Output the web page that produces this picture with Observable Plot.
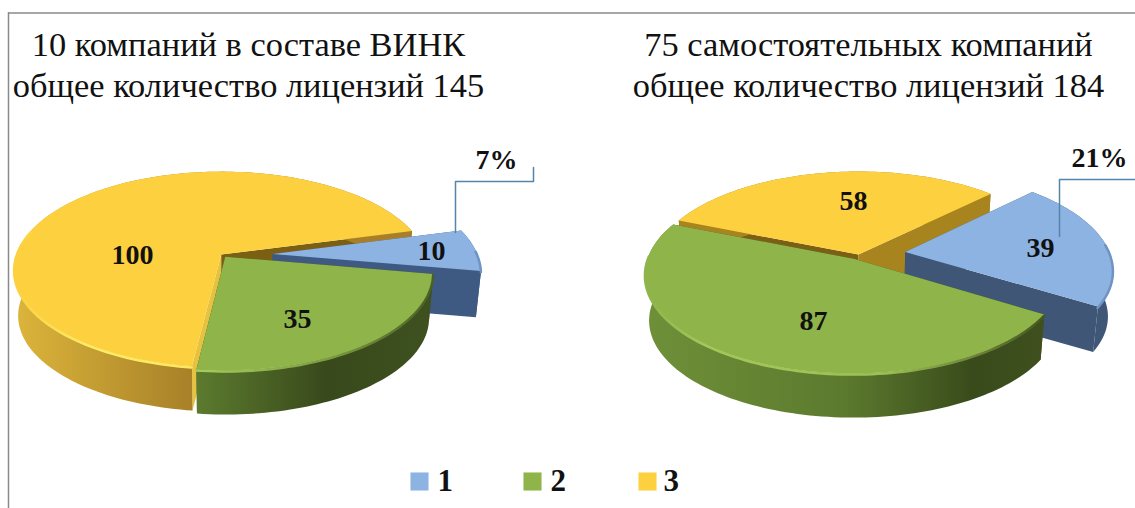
<!DOCTYPE html>
<html><head><meta charset="utf-8">
<style>html,body{margin:0;padding:0;background:#fff}svg{display:block}svg text{font-family:'Liberation Serif',serif !important}</style>
<script src="https://cdn.jsdelivr.net/npm/d3@7"></script>
<script src="https://cdn.jsdelivr.net/npm/@observablehq/plot@0.6"></script>
</head><body><div id="chart"></div>
<script>
// ---- data ----
const categories = ["1", "2", "3"];
const colors = ["#8db3e2", "#8fb44a", "#fcd03f"];
const valuesVink = [10, 35, 100];
const valuesIndependent = [39, 87, 58];
const titleVink = ["10 компаний в составе ВИНК", "общее количество лицензий 145"];
const titleIndependent = ["75 самостоятельных компаний", "общее количество лицензий 184"];
const shareVink = "7%";
const shareIndependent = "21%";

// ---- layout ----
const W = 1135, H = 508;
const serif = "'Liberation Serif', serif";
const K = 0.153, RX = 205, RY = 95.7, DEPTH = 46.5, SHRINK = 0.02;
const pies = [
  {id: "a", values: valuesVink, start: 75.2, pivot: [222, 254.5], explode: [0.245, 0.022, 0.008], drawOrder: [2, 0, 1],
   sidePaint: ["#3f5a82", "url(#sideGreenA)", "url(#sideYellowA)"],
   cutPaint: [["#3f5a82", "#3f5a82"], ["#3f5220", "#3f5220"], ["#e6c23f", "#7b5f12"]],
   rim: [[88, 100, "#6f93c2"], [100, 187, "url(#rimGreenA)"], [187, 285, "url(#rimYellowA)"]],
   labelAt: [[431, 251], [297, 319], [132, 255]],
   share: shareVink, shareAt: [496, 160], title: titleVink, titleX: 248,
   leaderX: [455, 455, 533, 533], leaderY: [232, 181, 181, 167]},
  {id: "b", values: valuesIndependent, start: 45.5, pivot: [858, 254], explode: [0.23, 0.05, 0], drawOrder: [2, 0, 1],
   sidePaint: ["#3f5676", "url(#sideGreenB)", "#a8841f"],
   cutPaint: [["#3f5676", "#3f5676"], ["#3f501e", "#3f501e"], ["#7b5f12", "#a8841f"]],
   rim: [[85, 122, "#6f93c2"], [122, 272, "url(#rimGreenB)"]],
   labelAt: [[1040, 248], [813, 321], [853, 201]],
   share: shareIndependent, shareAt: [1099, 158], title: titleIndependent, titleX: 868,
   leaderX: [1059, 1059, 1135], leaderY: [236, 179, 179]}
];
const titleY = [44, 85];
const legendX = [419, 532, 647];
const legendLabelX = [437, 550, 663];
const legendY = 481;

// ---- geometry of the tilted disk ----
const rad = d => d * Math.PI / 180;
function project(pie, u, v, z) {
  const w = 1 + K * v, s = 1 - SHRINK * z;
  return {x: pie.pivot[0] + RX * u / w * s, y: pie.pivot[1] - RY * v / w * s + z * DEPTH};
}
function point(pie, slice, theta, r, z) {
  const mid = (slice.startAngle + slice.endAngle) / 2, e = pie.explode[slice.index];
  return project(pie, r * Math.sin(theta) + e * Math.sin(mid), r * Math.cos(theta) + e * Math.cos(mid), z);
}
function arc(pie, slice, a0, a1, z) {
  const n = Math.max(2, Math.ceil(Math.abs(a1 - a0) / rad(1.5)));
  return d3.range(n + 1).map(i => point(pie, slice, a0 + (a1 - a0) * i / n, 1, z));
}
const linearXY = {x: "x", y: "y", stroke: "none", curve: "linear"};

function sliceMarks(pie, slice) {
  const i = slice.index, a0 = slice.startAngle, a1 = slice.endAngle;
  const cut = a => [point(pie, slice, a, 0, 0), point(pie, slice, a, 1, 0), point(pie, slice, a, 1, 1), point(pie, slice, a, 0, 1)];
  const wall = [...arc(pie, slice, a0, a1, 0), ...arc(pie, slice, a1, a0, 1)];
  const top = [point(pie, slice, a0, 0, 0), ...arc(pie, slice, a0, a1, 0)].map(p => ({...p, category: categories[i]}));
  return [
    Plot.line(cut(a0), {...linearXY, fill: pie.cutPaint[i][0]}),
    Plot.line(cut(a1), {...linearXY, fill: pie.cutPaint[i][1]}),
    Plot.line(wall, {...linearXY, fill: pie.sidePaint[i]}),
    Plot.line(top, {...linearXY, fill: "category", z: "category"})
  ];
}
function rimMarks(pie) {
  return pie.rim.map(([d0, d1, paint]) => {
    const m = rad((d0 + d1) / 2);
    const slice = pie.slices.find(s => m >= s.startAngle && m <= s.endAngle);
    return Plot.line(arc(pie, slice, rad(d0), rad(d1), 0.025), {x: "x", y: "y", stroke: paint, strokeWidth: 2.5, curve: "linear"});
  });
}
for (const pie of pies) {
  pie.slices = d3.pie().sort(null).value(d => d).startAngle(rad(pie.start)).endAngle(rad(pie.start + 360))(pie.values);
}

function gradient(defs, id, stops) {
  const g = defs.append("linearGradient").attr("id", id);
  for (const [o, c] of stops) g.append("stop").attr("offset", o).attr("stop-color", c);
}
function gradients() {
  const defs = d3.create("svg:defs");
  gradient(defs, "sideYellowA", [[0, "#dcb53b"], [0.46, "#a67f28"], [1, "#a67f28"]]);
  gradient(defs, "sideGreenA", [[0, "#5c7b2e"], [0.55, "#38491b"], [1, "#3e511f"]]);
  gradient(defs, "sideGreenB", [[0, "#6f9039"], [0.5, "#5c7a2e"], [0.82, "#394b1b"], [1, "#3f501e"]]);
  gradient(defs, "rimGreenA", [[0, "#a8cd5b"], [0.55, "#7d9d40"], [1, "#4a5f25"]]);
  gradient(defs, "rimGreenB", [[0, "#8fb44a"], [0.15, "#a3c758"], [0.6, "#9cc054"], [1, "#46591f"]]);
  gradient(defs, "rimYellowA", [[0, "#fcd03f"], [0.4, "#ffeb66"], [1, "#ffe860"]]);
  return defs.node();
}

const text = (rows, o) => Plot.text(rows, {x: "x", y: "y", text: "t", fontFamily: serif, fill: "#111", lineAnchor: "middle", ...o});

const marks = [
  gradients,
  Plot.ruleY([12.5], {x1: 8, x2: W, stroke: "#8a8a8a", strokeWidth: 1.5}),
  Plot.ruleX([8], {y1: 12, y2: H, stroke: "#8a8a8a", strokeWidth: 1.5})
];
for (const pie of pies) {
  for (const i of pie.drawOrder) marks.push(...sliceMarks(pie, pie.slices[i]));
  marks.push(...rimMarks(pie));
  marks.push(Plot.line(pie.leaderX.map((x, i) => ({x, y: pie.leaderY[i]})), {x: "x", y: "y", stroke: "#5585a8", strokeWidth: 1.5}));
  marks.push(text(pie.values.map((v, i) => ({x: pie.labelAt[i][0], y: pie.labelAt[i][1], t: String(v)})), {fontSize: 28, fontWeight: "bold"}));
  marks.push(text([{x: pie.shareAt[0], y: pie.shareAt[1], t: pie.share}], {fontSize: 28, fontWeight: "bold"}));
  marks.push(text(pie.title.map((t, i) => ({x: pie.titleX, y: titleY[i], t})), {fontSize: 34.4, fontWeight: "normal"}));
}
const legendRows = categories.map((c, i) => ({category: c, x: legendX[i], y: legendY, lx: legendLabelX[i]}));
marks.push(Plot.dot(legendRows, {x: "x", y: "y", symbol: "square", r: 10.2, fill: "category", stroke: "none"}));
marks.push(Plot.text(legendRows, {x: "lx", y: "y", text: "category", textAnchor: "start", lineAnchor: "middle", fontFamily: serif, fontWeight: "bold", fontSize: 31, fill: "#111"}));

const chart = Plot.plot({
  width: W, height: H, margin: 0,
  style: {background: "#fff"},
  x: {domain: [0, W], range: [0, W], axis: null},
  y: {domain: [0, H], range: [0, H], axis: null},
  color: {type: "ordinal", domain: categories, range: colors},
  marks
});
document.getElementById("chart").append(chart);
</script></body></html>
